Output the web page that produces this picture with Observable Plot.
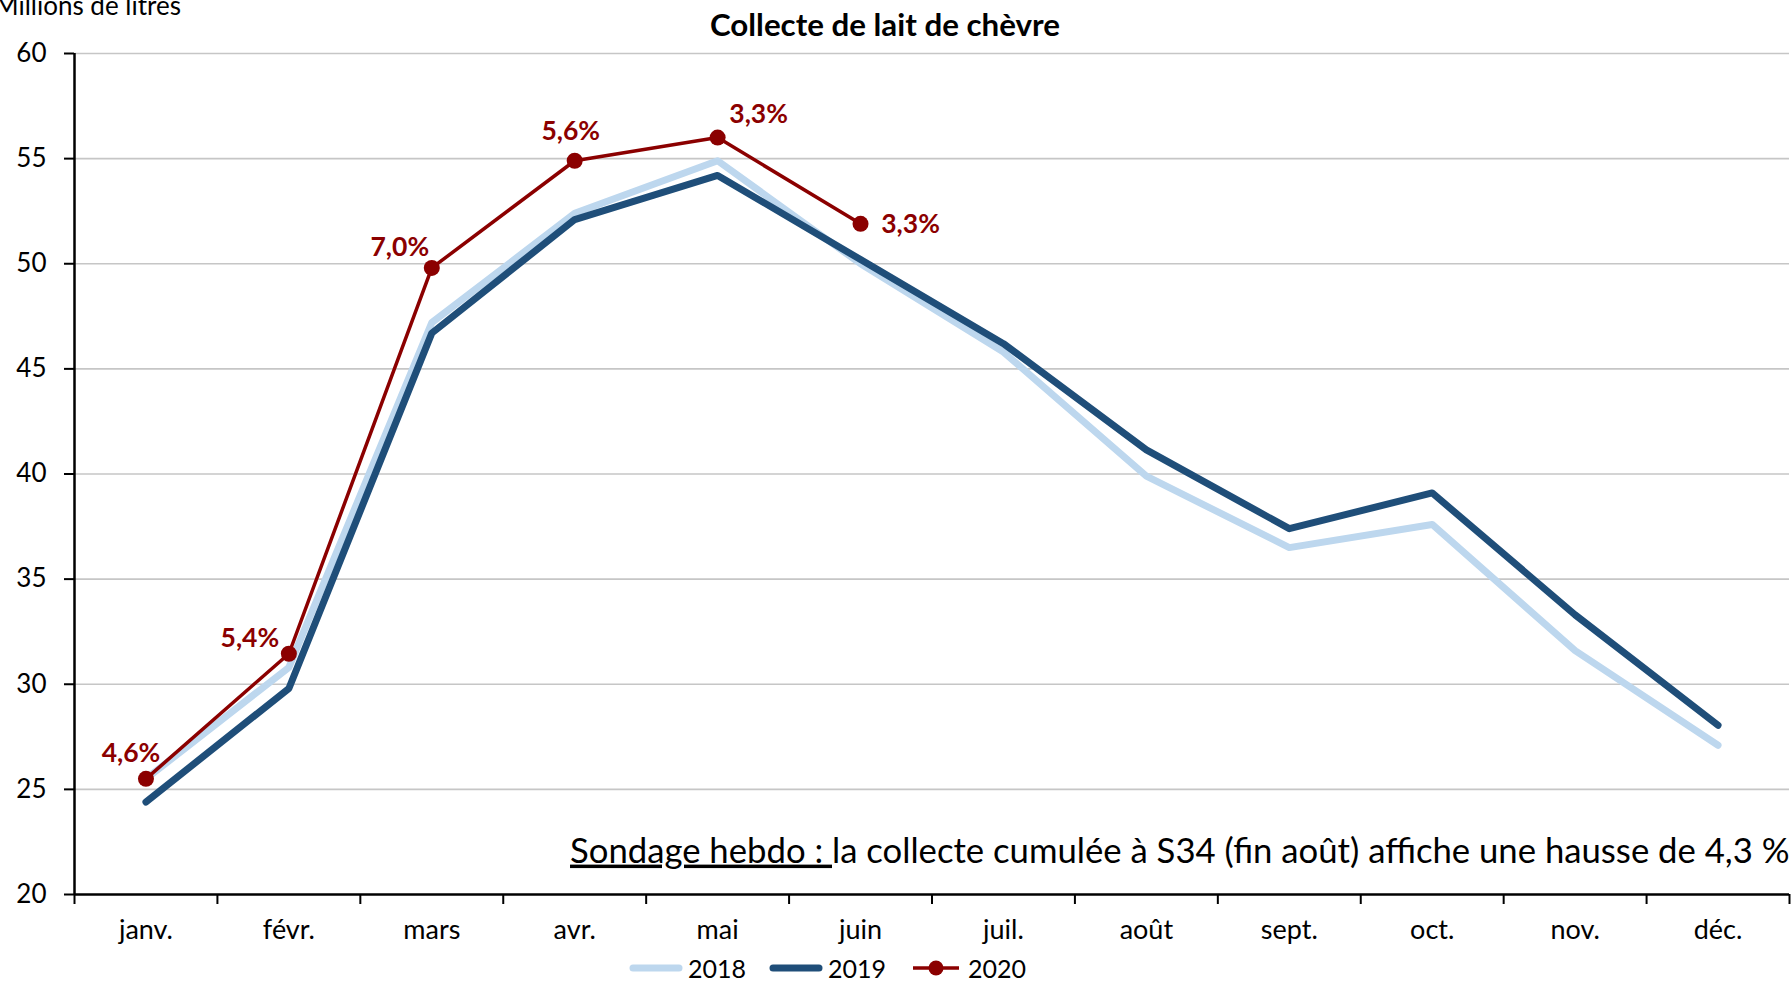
<!DOCTYPE html>
<html>
<head>
<meta charset="utf-8">
<script src="https://cdn.jsdelivr.net/npm/d3@7"></script>
<script src="https://cdn.jsdelivr.net/npm/@observablehq/plot@0.6"></script>
<style>
  html, body { margin: 0; padding: 0; background: #fff; overflow: hidden; }
  #wrap { position: relative; width: 1792px; height: 983px; font-family: Lato, "Open Sans", sans-serif; }
  #legend { position: absolute; top: 952px; left: 629px; height: 31px; display: flex; align-items: center; font-size: 25px; color: #000; }
  #legend .item { display: flex; align-items: center; margin-right: 23px; }
  #legend svg { margin-right: 5px; }
</style>
</head>
<body>
<div id="wrap"><div id="chart"></div><div id="legend"></div></div>
<script>
// ---- data ----
const months = ["janv.", "févr.", "mars", "avr.", "mai", "juin", "juil.", "août", "sept.", "oct.", "nov.", "déc."];
const series2018 = [25.5, 30.8, 47.2, 52.4, 54.9, 50.0, 45.8, 39.9, 36.5, 37.6, 31.6, 27.1];
const series2019 = [24.4, 29.8, 46.7, 52.1, 54.2, 50.2, 46.2, 41.15, 37.4, 39.1, 33.3, 28.05];
const series2020 = [25.5, 31.45, 49.8, 54.9, 56.0, 51.9];
const labels2020 = ["4,6%", "5,4%", "7,0%", "5,6%", "3,3%", "3,3%"];
const yTicks = [20, 25, 30, 35, 40, 45, 50, 55, 60];
const legendYears = ["2018", "2019", "2020"];
const titleText = "Collecte de lait de chèvre";
const yLabelText = "Millions de litres";
const noteLead = "Sondage hebdo : ";
const noteRest = "la collecte cumulée à S34 (fin août) affiche une hausse de 4,3 %";

// ---- styles ----
const c2018 = "#BDD7EE", c2019 = "#1F4E79", c2020 = "#8B0000";
const labelOffsets = [[-15, -25], [-39, -15], [-32, -20], [-4, -29], [41, -23], [50, 1]];
const xc = (d, i) => i + 0.5;

const labelMarks = labels2020.map((lab, i) =>
  Plot.text([i], {
    x: j => j + 0.5, y: j => series2020[j], text: j => labels2020[j],
    dx: labelOffsets[i][0], dy: labelOffsets[i][1],
    fill: c2020, fontWeight: "bold", fontSize: 26.5, lineAnchor: "middle"
  })
);

const chart = Plot.plot({
  width: 1792, height: 952,
  marginLeft: 74, marginRight: 3, marginTop: 53, marginBottom: 58,
  style: { fontFamily: "Lato, 'Open Sans', sans-serif", background: "white", color: "black" },
  x: { type: "linear", domain: [0, 12], axis: null },
  y: { domain: [20, 60], axis: null },
  marks: [
    Plot.gridY(yTicks.filter(d => d > 20), { stroke: "#c6c6c6", strokeOpacity: 1, strokeWidth: 1.6 }),
    Plot.axisY({ ticks: yTicks, tickSize: 10, tickPadding: 18, fontSize: 26, label: null, strokeWidth: 2, tickFormat: d => String(d) }),
    Plot.axisX({ ticks: d3.range(13), tickSize: 10, tickFormat: () => "", label: null, strokeWidth: 2 }),
    Plot.axisX({ ticks: months.map((m, i) => i + 0.5), tickSize: 0, tickPadding: 25, fontSize: 27, label: null, tickFormat: d => months[Math.floor(d)] }),
    Plot.ruleX([0], { stroke: "black", strokeWidth: 2.5 }),
    Plot.ruleY([20], { stroke: "black", strokeWidth: 2.5 }),
    Plot.line(series2018, { x: xc, y: d => d, stroke: c2018, strokeWidth: 7, strokeLinecap: "round", strokeLinejoin: "round" }),
    Plot.line(series2019, { x: xc, y: d => d, stroke: c2019, strokeWidth: 7, strokeLinecap: "round", strokeLinejoin: "round" }),
    Plot.line(series2020, { x: xc, y: d => d, stroke: c2020, strokeWidth: 3.5, strokeLinejoin: "round" }),
    Plot.dot(series2020, { x: xc, y: d => d, r: 8, fill: c2020, stroke: "none" }),
    ...labelMarks,
    Plot.text([titleText], { frameAnchor: "top", dx: -47, dy: -28, text: d => d, fontSize: 31.3, fontWeight: "bold", lineAnchor: "middle", fill: "black" }),
    Plot.text([yLabelText], { frameAnchor: "top-left", dx: -80, dy: -47, text: d => d, fontSize: 26, textAnchor: "start", lineAnchor: "middle", fill: "black" }),
    Plot.text([noteLead + noteRest], { frameAnchor: "bottom-right", dx: 0, dy: -43, text: d => d, fontSize: 34.7, textAnchor: "end", lineAnchor: "middle", fill: "black" })
  ]
});
document.getElementById("chart").appendChild(chart);

// underline the lead of the note
d3.select(chart).selectAll("text").filter(function () { return this.textContent === noteLead + noteRest; })
  .each(function () {
    const t = d3.select(this);
    t.text(null);
    t.append("tspan").style("text-decoration", "underline").text(noteLead);
    t.append("tspan").text(noteRest);
  });

// legend
const legend = d3.select("#legend");
const legendStyles = [
  { color: c2018, w: 7, dot: false },
  { color: c2019, w: 7, dot: false },
  { color: c2020, w: 3.5, dot: true }
];
legendYears.forEach((yr, i) => {
  const s = legendStyles[i];
  const item = legend.append("div").attr("class", "item");
  const sw = item.append("svg").attr("width", 54).attr("height", 20);
  sw.append("line").attr("x1", 4).attr("x2", 50).attr("y1", 10).attr("y2", 10)
    .attr("stroke", s.color).attr("stroke-width", s.w).attr("stroke-linecap", s.dot ? "butt" : "round");
  if (s.dot) sw.append("circle").attr("cx", 27).attr("cy", 10).attr("r", 7.5).attr("fill", s.color);
  item.append("span").text(yr);
});
</script>
</body>
</html>
